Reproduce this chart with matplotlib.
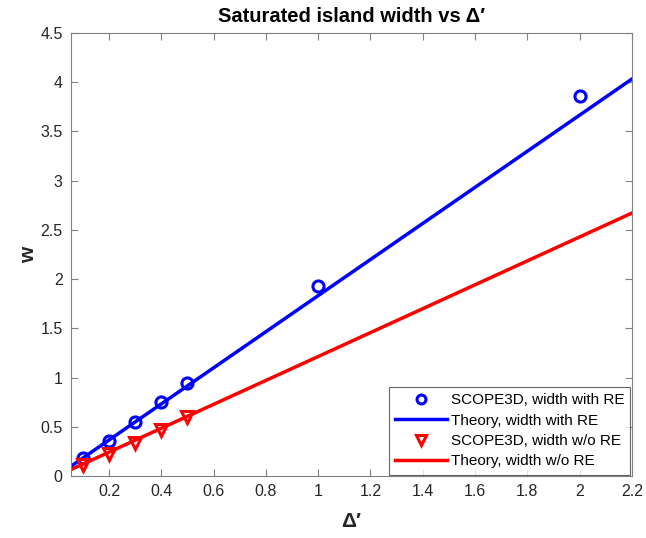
"""Saturated island width versus Delta'."""
import matplotlib
matplotlib.use("Agg")
import matplotlib.pyplot as plt

# simulation points
delta_pts = [0.1, 0.2, 0.3, 0.4, 0.5, 1.0, 2.0]
w_with_re = [0.186, 0.355, 0.55, 0.755, 0.95, 1.93, 3.86]
delta_pts_nore = [0.1, 0.2, 0.3, 0.4, 0.5]
w_without_re = [0.11, 0.22, 0.34, 0.47, 0.60]

# theory lines
delta_theory = [0.05, 2.2]
theory_with_re = [0.0915, 4.03]
theory_without_re = [0.061, 2.67]

plt.rcParams["font.family"] = ["Liberation Sans", "DejaVu Sans"]

fig = plt.figure(figsize=(6.46, 5.38), dpi=100)
ax = fig.add_axes([0.110, 0.115, 0.868, 0.824])

ax.plot(delta_pts, w_with_re, "o", color="#0000ff", mfc="none", mew=2.2, ms=8,
        label="SCOPE3D, width with RE")
ax.plot(delta_theory, theory_with_re, "-", color="#0000ff", lw=2.5,
        label="Theory, width with RE")
ax.plot(delta_pts_nore, w_without_re, "v", color="#ff0000", mfc="none", mew=2.2, ms=9,
        label="SCOPE3D, width w/o RE")
ax.plot(delta_theory, theory_without_re, "-", color="#ff0000", lw=2.5,
        label="Theory, width w/o RE")

ax.set_xlim(0.055, 2.2)
ax.set_ylim(0, 4.5)
ax.set_xticks([0.2, 0.4, 0.6, 0.8, 1, 1.2, 1.4, 1.6, 1.8, 2, 2.2])
ax.set_xticklabels(["0.2", "0.4", "0.6", "0.8", "1", "1.2", "1.4", "1.6", "1.8", "2", "2.2"])
ax.set_yticks([0, 0.5, 1, 1.5, 2, 2.5, 3, 3.5, 4, 4.5])
ax.set_yticklabels(["0", "0.5", "1", "1.5", "2", "2.5", "3", "3.5", "4", "4.5"])

grey = "#262626"
for s in ax.spines.values():
    s.set_color("#808080")
    s.set_linewidth(0.8)
ax.tick_params(direction="in", top=True, right=True, length=5, width=0.8,
               color="#808080", labelsize=11.5, labelcolor=grey, pad=6)

ax.set_title("Saturated island width vs \u0394\u2032", fontsize=14.5, fontweight="bold", pad=8)
ax.set_xlabel("\u0394\u2032", fontsize=15, fontweight="bold", color=grey, labelpad=9)
ax.set_ylabel("w", fontsize=15, fontweight="bold", color=grey, labelpad=2)

leg = ax.legend(loc="lower right", fontsize=11, frameon=True, fancybox=False,
                edgecolor="#404040", borderaxespad=0.1, handlelength=3.4,
                labelspacing=0.42, borderpad=0.4, handletextpad=0.25,
                markerscale=0.8)
leg.get_frame().set_linewidth(0.8)

fig.savefig("out.png", dpi=100)
